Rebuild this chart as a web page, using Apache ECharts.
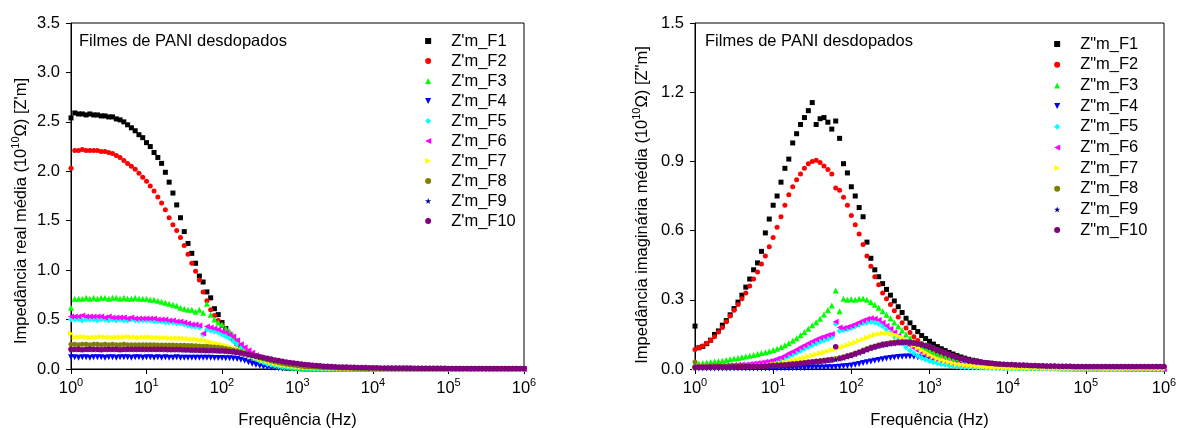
<!DOCTYPE html>
<html>
<head>
<meta charset="utf-8">
<script src="https://cdn.jsdelivr.net/npm/echarts@6/dist/echarts.min.js"></script>
<style>
html, body { margin: 0; padding: 0; background: #ffffff; }
#chart { width: 1179px; height: 428px; }
</style>
</head>
<body>
<div id="chart"></div>
<script>
// Frequency sweep, 20 points per decade from 1 Hz to 1 MHz
const freqHz = [
1,1.122,1.259,1.413,1.585,1.778,1.995,2.239,2.512,2.818,3.162,3.548,3.981,4.467,5.012,5.623,6.31,7.079,7.943,8.913,
10,11.22,12.59,14.13,15.85,17.78,19.95,22.39,25.12,28.18,31.62,35.48,39.81,44.67,50.12,56.23,63.1,70.79,79.43,89.13,
100,112.2,125.9,141.3,158.5,177.8,199.5,223.9,251.2,281.8,316.2,354.8,398.1,446.7,501.2,562.3,631,707.9,794.3,891.3,
1000,1122,1259,1413,1585,1778,1995,2239,2512,2818,3162,3548,3981,4467,5012,5623,6310,7079,7943,8913,
1e4,1.122e4,1.259e4,1.413e4,1.585e4,1.778e4,1.995e4,2.239e4,2.512e4,2.818e4,3.162e4,3.548e4,3.981e4,4.467e4,5.012e4,5.623e4,6.31e4,7.079e4,7.943e4,8.913e4,
1e5,1.122e5,1.259e5,1.413e5,1.585e5,1.778e5,1.995e5,2.239e5,2.512e5,2.818e5,3.162e5,3.548e5,3.981e5,4.467e5,5.012e5,5.623e5,6.31e5,7.079e5,7.943e5,8.913e5,
1e6];

// Mean real impedance Z'm (10^10 ohm)
const realF1 = [
2.54,2.59,2.58,2.58,2.57,2.58,2.57,2.57,2.56,2.56,2.55,2.55,2.53,2.52,2.50,2.47,2.44,2.41,2.37,2.34,
2.29,2.25,2.19,2.14,2.08,1.99,1.89,1.78,1.66,1.53,1.39,1.27,1.17,1.07,0.94,0.88,0.78,0.72,0.61,0.55,
0.47,0.41,0.35,0.30,0.26,0.22,0.18,0.15,0.12,0.097,0.077,0.060,0.046,0.035,0.026,0.019,0.014,0.010,0.008,0.006,
0.005,0.004,0.003,0.003,0.002,0.002,0.002,0.002,0.001,0.001,0.001,0.001,0.001,0.001,0.001,0.001,0.001,0.001,0.001,0.001,
0.001,0.001,0.001,0.001,0.001,0.001,0.001,0.001,0.001,0.001,0.001,0.001,0.001,0.001,0.001,0.001,0.001,0.001,0.001,0.001,
0.001,0.001,0.001,0.001,0.001,0.001,0.001,0.001,0.001,0.001,0.001,0.001,0.001,0.001,0.001,0.001,0.001,0.001,0.001,0.001,
0.001];
const realF2 = [
2.03,2.21,2.21,2.22,2.21,2.21,2.21,2.21,2.20,2.20,2.19,2.18,2.16,2.14,2.11,2.08,2.05,2.02,1.98,1.94,
1.90,1.85,1.80,1.74,1.68,1.61,1.53,1.46,1.40,1.33,1.25,1.16,1.07,0.99,0.90,0.78,0.69,0.60,0.54,0.49,
0.44,0.39,0.34,0.29,0.25,0.21,0.17,0.14,0.11,0.090,0.072,0.057,0.044,0.034,0.026,0.019,0.014,0.010,0.008,0.006,
0.005,0.004,0.003,0.003,0.002,0.002,0.002,0.001,0.001,0.001,0.001,0.001,0.001,0.001,0.001,0.001,0.001,0.001,0.001,0.001,
0.001,0.001,0.001,0.001,0.001,0.001,0.001,0.001,0.001,0.001,0.001,0.001,0.001,0.001,0.001,0.001,0.001,0.001,0.001,0.001,
0.001,0.001,0.001,0.001,0.001,0.001,0.001,0.001,0.001,0.001,0.001,0.001,0.001,0.001,0.001,0.001,0.001,0.001,0.001,0.001,
0.001];
const realF3 = [
0.62,0.71,0.71,0.71,0.72,0.71,0.72,0.71,0.72,0.72,0.71,0.72,0.72,0.71,0.72,0.71,0.71,0.72,0.71,0.71,
0.71,0.70,0.70,0.69,0.68,0.67,0.66,0.65,0.64,0.62,0.61,0.60,0.60,0.58,0.60,0.57,0.66,0.55,0.50,0.47,
0.45,0.41,0.38,0.34,0.29,0.23,0.19,0.16,0.13,0.11,0.087,0.070,0.056,0.045,0.036,0.029,0.023,0.018,0.014,0.011,
0.009,0.007,0.006,0.005,0.004,0.003,0.003,0.002,0.002,0.002,0.001,0.001,0.001,0.001,0.001,0.001,0.001,0.001,0.001,0.001,
0.001,0.001,0.001,0.001,0.001,0.001,0.001,0.001,0.001,0.001,0.001,0.001,0.001,0.001,0.001,0.001,0.001,0.001,0.001,0.001,
0.001,0.001,0.001,0.001,0.001,0.001,0.001,0.001,0.001,0.001,0.001,0.001,0.001,0.001,0.001,0.001,0.001,0.001,0.001,0.001,
0.001];
const realF4 = [
0.12,0.12,0.115,0.12,0.12,0.115,0.12,0.12,0.12,0.115,0.12,0.12,0.115,0.12,0.12,0.12,0.115,0.12,0.12,0.115,
0.12,0.12,0.115,0.12,0.115,0.12,0.115,0.115,0.12,0.115,0.115,0.115,0.115,0.115,0.113,0.115,0.113,0.113,0.112,0.112,
0.111,0.11,0.108,0.105,0.1,0.093,0.083,0.068,0.054,0.042,0.032,0.024,0.018,0.013,0.009,0.007,0.005,0.004,0.003,0.002,
0.002,0.002,0.001,0.001,0.001,0.001,0.001,0.001,0.001,0.001,0.001,0.001,0.001,0.001,0.001,0.001,0.001,0.001,0.001,0.001,
0.001,0.001,0.001,0.001,0.001,0.001,0.001,0.001,0.001,0.001,0.001,0.001,0.001,0.001,0.001,0.001,0.001,0.001,0.001,0.001,
0.001,0.001,0.001,0.001,0.001,0.001,0.001,0.001,0.001,0.001,0.001,0.001,0.001,0.001,0.001,0.001,0.001,0.001,0.001,0.001,
0.001];
const realF5 = [
0.50,0.50,0.50,0.49,0.50,0.50,0.50,0.49,0.50,0.50,0.49,0.50,0.49,0.50,0.49,0.49,0.50,0.49,0.49,0.49,
0.49,0.49,0.48,0.48,0.48,0.47,0.47,0.47,0.46,0.46,0.45,0.44,0.43,0.43,0.42,0.35,0.40,0.39,0.38,0.37,
0.35,0.33,0.31,0.28,0.25,0.21,0.18,0.15,0.12,0.10,0.080,0.065,0.050,0.042,0.035,0.029,0.024,0.020,0.016,0.013,
0.011,0.009,0.007,0.006,0.005,0.004,0.003,0.003,0.002,0.002,0.002,0.001,0.001,0.001,0.001,0.001,0.001,0.001,0.001,0.001,
0.001,0.001,0.001,0.001,0.001,0.001,0.001,0.001,0.001,0.001,0.001,0.001,0.001,0.001,0.001,0.001,0.001,0.001,0.001,0.001,
0.001,0.001,0.001,0.001,0.001,0.001,0.001,0.001,0.001,0.001,0.001,0.001,0.001,0.001,0.001,0.001,0.001,0.001,0.001,0.001,
0.001];
const realF6 = [
0.53,0.53,0.53,0.54,0.53,0.53,0.53,0.53,0.53,0.52,0.53,0.52,0.52,0.52,0.52,0.51,0.52,0.51,0.51,0.51,
0.51,0.51,0.51,0.50,0.50,0.50,0.49,0.49,0.48,0.48,0.47,0.46,0.45,0.45,0.44,0.36,0.43,0.42,0.41,0.40,
0.38,0.37,0.35,0.33,0.29,0.25,0.22,0.19,0.165,0.14,0.12,0.10,0.085,0.075,0.065,0.057,0.050,0.045,0.040,0.036,
0.032,0.029,0.026,0.023,0.021,0.019,0.017,0.015,0.013,0.012,0.010,0.009,0.008,0.007,0.006,0.006,0.005,0.005,0.004,0.004,
0.003,0.003,0.003,0.003,0.002,0.002,0.002,0.002,0.002,0.002,0.002,0.002,0.002,0.002,0.002,0.002,0.002,0.002,0.002,0.002,
0.002,0.002,0.002,0.002,0.002,0.001,0.001,0.001,0.001,0.001,0.001,0.001,0.001,0.001,0.001,0.001,0.001,0.001,0.001,0.001,
0.001];
const realF7 = [
0.36,0.32,0.32,0.325,0.32,0.315,0.32,0.32,0.325,0.32,0.32,0.315,0.32,0.32,0.32,0.325,0.32,0.32,0.315,0.32,
0.32,0.32,0.315,0.315,0.315,0.315,0.31,0.31,0.31,0.31,0.305,0.305,0.30,0.30,0.29,0.29,0.28,0.27,0.26,0.255,
0.245,0.235,0.225,0.21,0.20,0.185,0.17,0.15,0.135,0.115,0.10,0.087,0.075,0.065,0.055,0.047,0.040,0.035,0.030,0.026,
0.022,0.019,0.016,0.014,0.012,0.010,0.009,0.008,0.007,0.006,0.005,0.004,0.004,0.003,0.003,0.003,0.002,0.002,0.002,0.002,
0.001,0.001,0.001,0.001,0.001,0.001,0.001,0.001,0.001,0.001,0.001,0.001,0.001,0.001,0.001,0.001,0.001,0.001,0.001,0.001,
0.001,0.001,0.001,0.001,0.001,0.001,0.001,0.001,0.001,0.001,0.001,0.001,0.001,0.001,0.001,0.001,0.001,0.001,0.001,0.001,
0.001];
const realF8 = [
0.25,0.25,0.245,0.25,0.25,0.245,0.25,0.25,0.245,0.25,0.245,0.25,0.245,0.245,0.25,0.245,0.245,0.245,0.245,0.245,
0.245,0.245,0.245,0.244,0.244,0.243,0.243,0.242,0.241,0.24,0.24,0.238,0.237,0.235,0.233,0.231,0.229,0.226,0.223,0.219,
0.215,0.208,0.2,0.193,0.185,0.175,0.165,0.153,0.14,0.127,0.115,0.102,0.09,0.08,0.07,0.062,0.055,0.048,0.042,0.037,
0.032,0.028,0.024,0.021,0.019,0.017,0.015,0.013,0.012,0.011,0.01,0.009,0.008,0.007,0.007,0.006,0.006,0.005,0.005,0.005,
0.004,0.004,0.004,0.004,0.004,0.003,0.003,0.003,0.003,0.003,0.003,0.003,0.003,0.003,0.003,0.003,0.003,0.003,0.003,0.003,
0.003,0.003,0.003,0.003,0.003,0.002,0.002,0.002,0.002,0.002,0.002,0.002,0.002,0.002,0.002,0.002,0.002,0.002,0.002,0.002,
0.002];
const realF9 = [
0.195,0.195,0.195,0.195,0.195,0.195,0.195,0.195,0.195,0.195,0.195,0.195,0.195,0.195,0.195,0.195,0.195,0.195,0.195,0.195,
0.195,0.195,0.195,0.195,0.195,0.194,0.193,0.193,0.192,0.191,0.19,0.189,0.188,0.187,0.185,0.184,0.183,0.182,0.181,0.18,
0.179,0.176,0.173,0.169,0.163,0.157,0.15,0.143,0.135,0.127,0.119,0.111,0.103,0.095,0.088,0.081,0.074,0.068,0.062,0.057,
0.052,0.047,0.043,0.039,0.035,0.032,0.029,0.027,0.025,0.023,0.021,0.019,0.018,0.017,0.016,0.015,0.014,0.013,0.012,0.011,
0.011,0.01,0.01,0.009,0.009,0.009,0.008,0.008,0.008,0.008,0.007,0.007,0.007,0.007,0.006,0.006,0.006,0.006,0.006,0.006,
0.005,0.005,0.005,0.005,0.005,0.005,0.005,0.005,0.005,0.005,0.005,0.005,0.005,0.005,0.005,0.005,0.005,0.005,0.005,0.005,
0.005];
const realF10 = [
0.20,0.20,0.20,0.195,0.20,0.20,0.20,0.20,0.195,0.20,0.20,0.20,0.20,0.195,0.20,0.20,0.20,0.20,0.20,0.20,
0.20,0.20,0.20,0.20,0.20,0.20,0.198,0.198,0.197,0.196,0.195,0.194,0.193,0.192,0.19,0.189,0.188,0.187,0.186,0.185,
0.184,0.181,0.178,0.174,0.168,0.162,0.155,0.148,0.14,0.132,0.124,0.116,0.108,0.1,0.092,0.085,0.078,0.072,0.066,0.061,
0.056,0.051,0.046,0.042,0.038,0.035,0.032,0.029,0.027,0.025,0.023,0.021,0.02,0.019,0.018,0.017,0.016,0.015,0.014,0.013,
0.012,0.012,0.011,0.011,0.01,0.01,0.01,0.009,0.009,0.009,0.009,0.008,0.008,0.008,0.008,0.007,0.007,0.007,0.007,0.007,
0.006,0.006,0.006,0.006,0.006,0.006,0.006,0.006,0.006,0.006,0.005,0.005,0.005,0.005,0.005,0.005,0.005,0.005,0.005,0.005,
0.005];

// Mean imaginary impedance Z''m (10^10 ohm)
const imagF1 = [
0.186,0.092,0.098,0.11,0.125,0.15,0.165,0.19,0.21,0.235,0.262,0.29,0.32,0.355,0.39,0.43,0.46,0.51,0.59,0.65,
0.71,0.75,0.81,0.87,0.91,0.98,1.02,1.06,1.09,1.12,1.155,1.06,1.085,1.09,1.07,1.04,1.075,1.0,0.89,0.85,
0.79,0.75,0.70,0.66,0.55,0.48,0.43,0.40,0.37,0.345,0.32,0.295,0.27,0.245,0.22,0.20,0.18,0.162,0.145,0.132,
0.12,0.108,0.097,0.088,0.08,0.072,0.065,0.058,0.052,0.047,0.042,0.038,0.035,0.031,0.028,0.026,0.024,0.021,0.019,0.018,
0.016,0.015,0.013,0.012,0.011,0.010,0.009,0.008,0.008,0.007,0.006,0.006,0.005,0.005,0.004,0.004,0.004,0.003,0.003,0.003,
0.003,0.002,0.002,0.002,0.002,0.002,0.002,0.002,0.002,0.002,0.002,0.002,0.002,0.002,0.002,0.001,0.001,0.001,0.001,0.001,
0.001];
const imagF2 = [
0.085,0.092,0.1,0.112,0.125,0.14,0.16,0.18,0.205,0.23,0.255,0.28,0.305,0.33,0.36,0.39,0.42,0.455,0.49,0.53,
0.57,0.615,0.66,0.71,0.755,0.79,0.82,0.845,0.87,0.89,0.90,0.905,0.895,0.88,0.865,0.845,0.785,0.775,0.745,0.71,
0.665,0.625,0.585,0.54,0.49,0.445,0.40,0.365,0.33,0.305,0.28,0.252,0.225,0.20,0.178,0.158,0.14,0.124,0.11,0.10,
0.09,0.08,0.072,0.065,0.058,0.052,0.047,0.042,0.038,0.034,0.031,0.028,0.026,0.023,0.021,0.019,0.018,0.016,0.015,0.014,
0.013,0.012,0.011,0.010,0.009,0.008,0.007,0.007,0.006,0.006,0.005,0.005,0.004,0.004,0.004,0.003,0.003,0.003,0.003,0.002,
0.002,0.002,0.002,0.002,0.002,0.002,0.002,0.002,0.002,0.002,0.001,0.001,0.001,0.001,0.001,0.001,0.001,0.001,0.001,0.001,
0.001];
const imagF3 = [
0.02,0.024,0.026,0.028,0.03,0.032,0.034,0.036,0.039,0.042,0.045,0.048,0.051,0.054,0.057,0.061,0.065,0.069,0.073,0.077,
0.082,0.088,0.095,0.103,0.112,0.122,0.133,0.146,0.16,0.174,0.19,0.203,0.218,0.236,0.256,0.275,0.34,0.25,0.305,0.30,
0.302,0.30,0.305,0.306,0.30,0.29,0.278,0.265,0.25,0.235,0.22,0.202,0.185,0.167,0.15,0.134,0.12,0.107,0.096,0.087,
0.078,0.07,0.063,0.057,0.051,0.046,0.041,0.037,0.033,0.03,0.027,0.024,0.022,0.02,0.018,0.016,0.015,0.014,0.013,0.012,
0.011,0.01,0.009,0.008,0.008,0.007,0.006,0.006,0.005,0.005,0.004,0.004,0.004,0.003,0.003,0.003,0.003,0.002,0.002,0.002,
0.002,0.002,0.002,0.002,0.002,0.002,0.002,0.002,0.002,0.002,0.001,0.001,0.001,0.001,0.001,0.001,0.001,0.001,0.001,0.001,
0.001];
const imagF4 = [
0.002,0.002,0.002,0.002,0.002,0.002,0.002,0.002,0.002,0.002,0.002,0.002,0.002,0.002,0.002,0.002,0.002,0.002,0.002,0.002,
0.002,0.002,0.003,0.003,0.003,0.003,0.004,0.004,0.004,0.005,0.005,0.006,0.006,0.007,0.008,0.008,0.009,0.010,0.012,0.013,
0.015,0.018,0.022,0.026,0.029,0.033,0.036,0.039,0.042,0.045,0.048,0.05,0.052,0.053,0.054,0.054,0.053,0.051,0.049,0.046,
0.042,0.039,0.035,0.031,0.028,0.025,0.022,0.019,0.017,0.015,0.013,0.012,0.01,0.009,0.008,0.007,0.006,0.006,0.005,0.005,
0.004,0.004,0.004,0.003,0.003,0.003,0.003,0.003,0.002,0.002,0.002,0.002,0.002,0.002,0.002,0.002,0.002,0.002,0.002,0.002,
0.002,0.002,0.002,0.002,0.002,0.001,0.001,0.001,0.001,0.001,0.001,0.001,0.001,0.001,0.001,0.001,0.001,0.001,0.001,0.001,
0.001];
const imagF5 = [
0.008,0.008,0.008,0.009,0.009,0.009,0.01,0.01,0.011,0.011,0.012,0.013,0.014,0.015,0.016,0.018,0.02,0.022,0.024,0.027,
0.03,0.035,0.04,0.047,0.055,0.062,0.07,0.079,0.088,0.095,0.103,0.11,0.118,0.124,0.13,0.138,0.195,0.165,0.168,0.172,
0.178,0.185,0.192,0.198,0.202,0.204,0.202,0.195,0.185,0.172,0.157,0.141,0.125,0.109,0.094,0.08,0.068,0.057,0.048,0.041,
0.035,0.029,0.025,0.021,0.018,0.015,0.013,0.011,0.009,0.008,0.007,0.006,0.005,0.005,0.004,0.004,0.003,0.003,0.003,0.002,
0.002,0.002,0.002,0.002,0.002,0.002,0.002,0.002,0.002,0.002,0.002,0.002,0.001,0.001,0.001,0.001,0.001,0.001,0.001,0.001,
0.001,0.001,0.001,0.001,0.001,0.001,0.001,0.001,0.001,0.001,0.001,0.001,0.001,0.001,0.001,0.001,0.001,0.001,0.001,0.001,
0.001];
const imagF6 = [
0.01,0.01,0.011,0.011,0.012,0.012,0.013,0.014,0.015,0.016,0.017,0.018,0.019,0.02,0.022,0.024,0.026,0.028,0.031,0.034,
0.038,0.044,0.05,0.059,0.068,0.076,0.085,0.094,0.103,0.112,0.12,0.128,0.135,0.141,0.147,0.152,0.205,0.18,0.178,0.182,
0.188,0.195,0.203,0.21,0.217,0.22,0.218,0.212,0.2,0.188,0.174,0.159,0.144,0.129,0.115,0.102,0.09,0.079,0.07,0.062,
0.055,0.048,0.042,0.037,0.033,0.029,0.025,0.022,0.019,0.017,0.015,0.013,0.012,0.011,0.01,0.009,0.008,0.007,0.007,0.006,
0.006,0.005,0.005,0.005,0.004,0.004,0.004,0.004,0.003,0.003,0.003,0.003,0.003,0.003,0.002,0.002,0.002,0.002,0.002,0.002,
0.002,0.002,0.002,0.002,0.002,0.002,0.002,0.002,0.002,0.002,0.001,0.001,0.001,0.001,0.001,0.001,0.001,0.001,0.001,0.001,
0.001];
const imagF7 = [
0.005,0.005,0.006,0.006,0.006,0.007,0.007,0.007,0.008,0.008,0.008,0.009,0.009,0.01,0.011,0.012,0.013,0.014,0.015,0.016,
0.018,0.021,0.024,0.028,0.032,0.036,0.04,0.045,0.049,0.054,0.058,0.063,0.068,0.072,0.077,0.082,0.087,0.092,0.097,0.103,
0.109,0.115,0.122,0.128,0.135,0.142,0.148,0.152,0.155,0.155,0.153,0.149,0.143,0.135,0.125,0.114,0.103,0.092,0.081,0.071,
0.062,0.053,0.046,0.04,0.035,0.03,0.026,0.022,0.019,0.017,0.015,0.013,0.011,0.01,0.009,0.008,0.007,0.006,0.006,0.005,
0.005,0.004,0.004,0.004,0.003,0.003,0.003,0.003,0.003,0.002,0.002,0.002,0.002,0.002,0.002,0.002,0.002,0.002,0.002,0.002,
0.002,0.002,0.002,0.002,0.002,0.001,0.001,0.001,0.001,0.001,0.001,0.001,0.001,0.001,0.001,0.001,0.001,0.001,0.001,0.001,
0.001];
const imagF8 = [
0.03,0.011,0.011,0.011,0.012,0.012,0.012,0.012,0.012,0.013,0.013,0.013,0.013,0.014,0.014,0.014,0.014,0.015,0.015,0.016,
0.017,0.018,0.019,0.02,0.022,0.024,0.025,0.027,0.029,0.031,0.033,0.035,0.037,0.039,0.041,0.043,0.046,0.049,0.053,0.058,
0.063,0.069,0.075,0.082,0.089,0.095,0.1,0.105,0.109,0.112,0.115,0.117,0.118,0.119,0.119,0.118,0.116,0.113,0.109,0.104,
0.098,0.092,0.085,0.078,0.071,0.064,0.058,0.052,0.047,0.043,0.039,0.036,0.033,0.03,0.028,0.026,0.025,0.023,0.022,0.021,
0.02,0.019,0.018,0.017,0.017,0.016,0.015,0.015,0.014,0.014,0.013,0.013,0.013,0.012,0.012,0.012,0.012,0.011,0.011,0.011,
0.011,0.011,0.011,0.011,0.011,0.011,0.011,0.011,0.011,0.011,0.011,0.011,0.011,0.011,0.011,0.011,0.011,0.011,0.011,0.011,
0.011];
const imagF9 = [
0.006,0.006,0.006,0.006,0.006,0.006,0.006,0.006,0.006,0.007,0.007,0.007,0.007,0.008,0.008,0.008,0.009,0.009,0.01,0.011,
0.012,0.013,0.014,0.015,0.016,0.018,0.019,0.021,0.023,0.025,0.027,0.029,0.031,0.033,0.035,0.037,0.04,0.043,0.047,0.052,
0.057,0.063,0.069,0.075,0.082,0.088,0.093,0.098,0.102,0.105,0.108,0.11,0.112,0.113,0.113,0.112,0.11,0.107,0.103,0.098,
0.093,0.087,0.08,0.073,0.067,0.06,0.054,0.049,0.044,0.04,0.036,0.033,0.03,0.028,0.026,0.024,0.023,0.021,0.02,0.019,
0.018,0.017,0.016,0.015,0.015,0.014,0.013,0.013,0.012,0.012,0.011,0.011,0.011,0.01,0.01,0.01,0.01,0.009,0.009,0.009,
0.009,0.009,0.009,0.009,0.009,0.009,0.009,0.009,0.009,0.009,0.009,0.009,0.009,0.009,0.009,0.009,0.009,0.009,0.009,0.009,
0.009];
const imagF10 = [
0.008,0.008,0.008,0.008,0.009,0.009,0.009,0.009,0.009,0.01,0.01,0.01,0.01,0.011,0.011,0.011,0.011,0.012,0.012,0.013,
0.014,0.015,0.016,0.017,0.019,0.021,0.022,0.024,0.026,0.028,0.03,0.032,0.034,0.036,0.038,0.04,0.097,0.046,0.05,0.055,
0.06,0.066,0.072,0.078,0.085,0.091,0.096,0.101,0.105,0.108,0.111,0.113,0.115,0.116,0.116,0.115,0.113,0.11,0.106,0.101,
0.096,0.09,0.083,0.076,0.07,0.063,0.057,0.051,0.046,0.042,0.038,0.035,0.032,0.03,0.028,0.026,0.025,0.023,0.022,0.021,
0.02,0.019,0.018,0.017,0.017,0.016,0.015,0.015,0.014,0.014,0.013,0.013,0.013,0.012,0.012,0.012,0.012,0.011,0.011,0.011,
0.011,0.011,0.011,0.011,0.011,0.011,0.011,0.011,0.011,0.011,0.011,0.011,0.011,0.011,0.011,0.011,0.011,0.011,0.011,0.011,
0.011];

const sampleNames = ['F1','F2','F3','F4','F5','F6','F7','F8','F9','F10'];
const realSeries = [realF1, realF2, realF3, realF4, realF5, realF6, realF7, realF8, realF9, realF10];
const imagSeries = [imagF1, imagF2, imagF3, imagF4, imagF5, imagF6, imagF7, imagF8, imagF9, imagF10];

const realTicks = { min: 0, max: 3.5, step: 0.5 };
const imagTicks = { min: 0, max: 1.5, step: 0.3 };

const FONT = "'Liberation Sans', Arial, Helvetica, sans-serif";
const FS = 16.5;

const markerColors = ['#000000','#ff0000','#00ff00','#0000ff','#00ffff','#ff00ff','#ffff00','#808000','#000080','#800080'];
// Marker outlines as paths so the legend keeps them square
const markerShapes = [
  'path://M0,0L10,0L10,10L0,10Z',      // square
  'circle',
  'path://M5,0L10,10L0,10Z',           // up triangle
  'path://M0,0L10,0L5,10Z',            // down triangle
  'path://M5,0L10,5L5,10L0,5Z',        // diamond
  'path://M10,0L0,5L10,10Z',           // left triangle
  'path://M0,0L10,5L0,10Z',            // right triangle
  'circle',
  'path://M5,0L6.2,3.6L10,3.6L6.9,5.8L8.1,9.5L5,7.2L1.9,9.5L3.1,5.8L0,3.6L3.8,3.6Z', // star
  'circle'
];
const markerSizes = [5, 5, 6, 6, 6, 6, 6, 5, 6, 5.5];

function buildSeries(prefix, valueLists, axisIdx) {
  return valueLists.map((vals, k) => ({
    type: 'scatter',
    name: prefix + sampleNames[k],
    xAxisIndex: axisIdx,
    yAxisIndex: axisIdx,
    data: freqHz.map((f, i) => [f, vals[i]]),
    symbol: markerShapes[k],
    symbolSize: markerSizes[k],
    symbolKeepAspect: true,
    itemStyle: { color: markerColors[k], opacity: 1 },
    emphasis: { disabled: true },
    silent: true,
    animation: false
  }));
}

const supRich = {
  b: { fontSize: FS, fontFamily: FONT, color: '#000', lineHeight: 18, padding: [4, 0, 0, 0] },
  s: { fontSize: 11, fontFamily: FONT, color: '#000', lineHeight: 12, verticalAlign: 'top' }
};

function freqAxis(gridIdx) {
  return {
    type: 'log', logBase: 10, gridIndex: gridIdx, min: 1, max: 1e6, splitNumber: 6,
    name: 'Frequência (Hz)', nameLocation: 'middle', nameGap: 43,
    nameTextStyle: { fontSize: FS, fontFamily: FONT, color: '#000' },
    axisLine: { show: true, onZero: false, lineStyle: { color: '#000', width: 1 } },
    axisTick: { show: true, inside: false, length: 5, lineStyle: { color: '#000', width: 1 } },
    minorTick: { show: false },
    splitLine: { show: false },
    axisLabel: {
      show: true, margin: 8, color: '#000', fontSize: FS, fontFamily: FONT,
      formatter: v => '{b|10}{s|' + Math.round(Math.log10(v)) + '}',
      rich: supRich
    }
  };
}

function valueAxis(gridIdx, ticks) {
  return {
    type: 'value', gridIndex: gridIdx, min: ticks.min, max: ticks.max, interval: ticks.step,
    axisLine: { show: true, onZero: false, lineStyle: { color: '#000', width: 1 } },
    axisTick: { show: true, inside: false, length: 5, lineStyle: { color: '#000', width: 1 } },
    splitLine: { show: false },
    axisLabel: {
      show: true, margin: 11, color: '#000', fontSize: FS, fontFamily: FONT,
      formatter: v => v.toFixed(1)
    }
  };
}

function legendFor(prefix, left, top, lineH) {
  return {
    orient: 'vertical', left: left, top: top, padding: 0, itemGap: 0,
    itemWidth: 36, itemHeight: 6, symbolKeepAspect: true, selectedMode: false,
    textStyle: { fontSize: FS, fontFamily: FONT, color: '#000', lineHeight: lineH },
    data: sampleNames.map(n => prefix + n)
  };
}

function textMark(x, y, text, rotated) {
  return {
    type: 'text', x: x, y: y, rotation: rotated ? Math.PI / 2 : 0, silent: true,
    style: {
      text: text, fill: '#000', fontSize: FS, fontFamily: FONT,
      align: rotated ? 'center' : 'left', textAlign: rotated ? 'center' : 'left',
      verticalAlign: 'middle', textVerticalAlign: 'middle',
      rich: supRich
    }
  };
}

const chart = echarts.init(document.getElementById('chart'), null, { renderer: 'canvas' });
chart.setOption({
  animation: false,
  backgroundColor: '#ffffff',
  textStyle: { fontFamily: FONT },
  grid: [
    { left: 71, top: 23, width: 453, height: 346, show: true, borderColor: '#000', borderWidth: 1, containLabel: false, outerBoundsMode: 'none' },
    { left: 695, top: 23, width: 469, height: 346, show: true, borderColor: '#000', borderWidth: 1, containLabel: false, outerBoundsMode: 'none' }
  ],
  xAxis: [freqAxis(0), freqAxis(1)],
  yAxis: [valueAxis(0, realTicks), valueAxis(1, imagTicks)],
  legend: [
    legendFor("Z'm_", 425, 31, 20),
    legendFor('Z"m_', 1054, 33.7, 20.67)
  ],
  graphic: [
    textMark(79, 41, 'Filmes de PANI desdopados', false),
    textMark(705, 41, 'Filmes de PANI desdopados', false),
    textMark(19, 211, "{b|Impedância real média (10}{s|10}{b|Ω) [Z'm]}", true),
    textMark(640, 205, '{b|Impedância imaginária média (10}{s|10}{b|Ω) [Z"m]}', true)
  ],
  series: buildSeries("Z'm_", realSeries, 0).concat(buildSeries('Z"m_', imagSeries, 1))
});
</script>
</body>
</html>
